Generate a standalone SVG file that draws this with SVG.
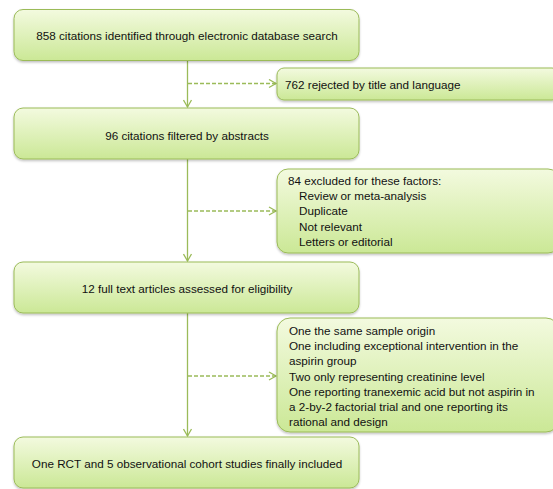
<svg xmlns="http://www.w3.org/2000/svg" width="553" height="489" viewBox="0 0 553 489">
<defs>
<linearGradient id="g" x1="0" y1="0" x2="0" y2="1">
<stop offset="0" stop-color="#f3fadf"/>
<stop offset="1" stop-color="#cbe896"/>
</linearGradient>
<filter id="sh" x="-5%" y="-10%" width="110%" height="130%">
<feDropShadow dx="0" dy="1.5" stdDeviation="1" flood-color="#000" flood-opacity="0.25"/>
</filter>
<marker id="ah" markerWidth="10" markerHeight="10" refX="8" refY="5" orient="auto" markerUnits="userSpaceOnUse">
<path d="M1,1 L8,5 L1,9" fill="none" stroke="#9bbb59" stroke-width="1.3"/>
</marker>
</defs>
<style>
.box{fill:url(#g);stroke:#9bbb59;stroke-width:1;filter:url(#sh)}
text{font-family:"Liberation Sans",Arial,sans-serif;font-size:11.7px;fill:#111}
.c{text-anchor:middle}
.ln{stroke:#9bbb59;stroke-width:1.3;fill:none}
.d{stroke-dasharray:4 2}
</style>
<rect width="553" height="489" fill="#fff"/>
<g id="connectors">
<line class="ln" x1="187.5" y1="61" x2="187.5" y2="107" marker-end="url(#ah)"/>
<line class="ln" x1="187.5" y1="159" x2="187.5" y2="261" marker-end="url(#ah)"/>
<line class="ln" x1="187.5" y1="313" x2="187.5" y2="436" marker-end="url(#ah)"/>
<line class="ln d" x1="188" y1="83.5" x2="276" y2="83.5" marker-end="url(#ah)"/>
<line class="ln d" x1="188" y1="211" x2="276" y2="211" marker-end="url(#ah)"/>
<line class="ln d" x1="188" y1="376" x2="276" y2="376" marker-end="url(#ah)"/>
</g>
<g id="n1"><rect class="box" x="14" y="9.5" width="345" height="51" rx="9"/><text class="c" x="187" y="39.5">858 citations identified through electronic database search</text></g>
<g id="n2"><rect class="box" x="277" y="68" width="282" height="32" rx="7"/><text x="285" y="88.5">762 rejected by title and language</text></g>
<g id="n3"><rect class="box" x="14" y="108" width="345" height="51" rx="9"/><text class="c" x="187" y="139.5">96 citations filtered by abstracts</text></g>
<g id="n4"><rect class="box" x="277" y="169" width="282" height="84" rx="11"/>
<text x="288" y="184.5">84 excluded for these factors:</text>
<text x="299" y="200">Review or meta-analysis</text>
<text x="299" y="215">Duplicate</text>
<text x="299" y="230.5">Not relevant</text>
<text x="299" y="245.5">Letters or editorial</text></g>
<g id="n5"><rect class="box" x="14" y="262" width="345" height="51" rx="9"/><text class="c" x="187" y="292.5">12 full text articles assessed for eligibility</text></g>
<g id="n6"><rect class="box" x="277" y="318" width="282" height="114" rx="13"/>
<text x="289" y="334.5">One the same sample origin</text>
<text x="289" y="350">One including exceptional intervention in the</text>
<text x="289" y="365">aspirin group</text>
<text x="289" y="380.5">Two only representing creatinine level</text>
<text x="289" y="395.5">One reporting tranexemic acid but not aspirin in</text>
<text x="289" y="411">a 2-by-2 factorial trial and one reporting its</text>
<text x="289" y="426">rational and design</text></g>
<g id="n7"><rect class="box" x="14" y="437" width="345" height="51" rx="9"/><text class="c" x="187" y="467.5">One RCT and 5 observational cohort studies finally included</text></g>
</svg>
